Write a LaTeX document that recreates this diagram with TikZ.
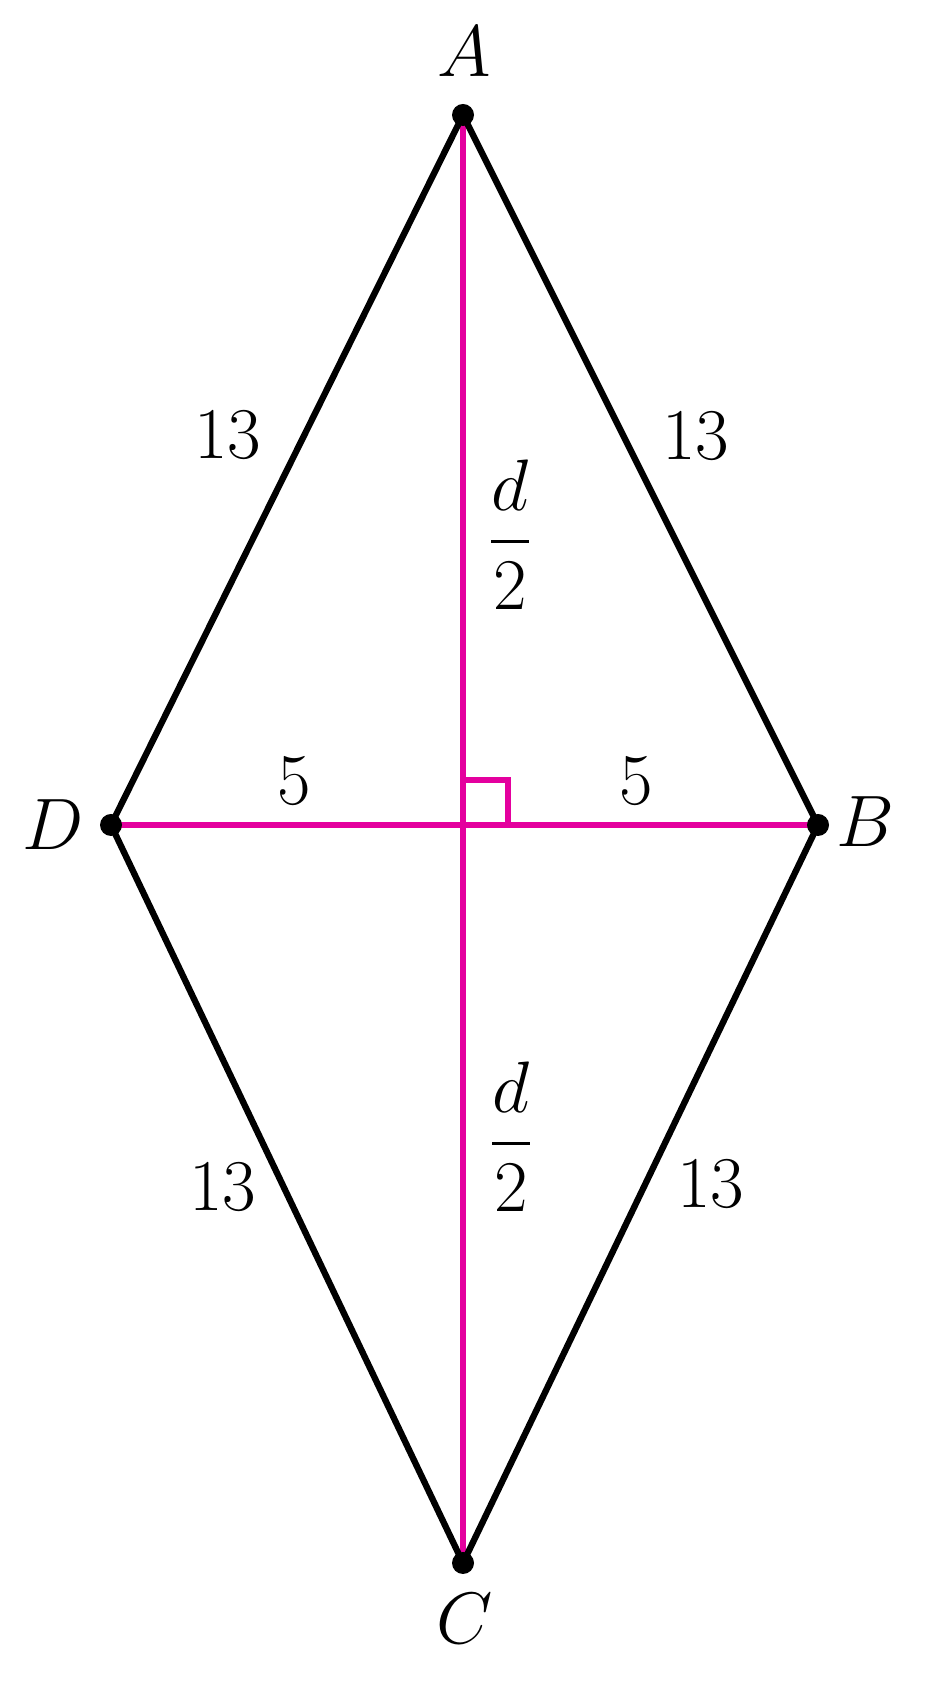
\documentclass[tikz,border=0pt]{standalone}
\usepackage{amsmath}
\usepackage{xcolor}
\usetikzlibrary{calc,positioning}

\definecolor{diagmag}{RGB}{228,0,158}

\begin{document}
\begin{tikzpicture}[every node/.style={font=\fontsize{20}{24}\selectfont, inner sep=0pt}]
  \useasboundingbox (0,0) rectangle (9.27,16.97);

  \coordinate (A) at (4.63,15.82);
  \coordinate (B) at (8.18,8.72);
  \coordinate (C) at (4.63,1.34);
  \coordinate (D) at (1.11,8.72);
  \coordinate (O) at (4.63,8.72);

  % Diagonals
  \draw[diagmag, line width=1.45pt] (A) -- (C);
  \draw[diagmag, line width=1.45pt] (D) -- (B);
  \draw[diagmag, line width=1.45pt] ($(O)+(0,0.45)$) -| ($(O)+(0.45,0)$);

  % Sides
  \draw[line width=1.8pt, line join=round] (A) -- (B) -- (C) -- (D) -- cycle;

  % Labels
  \node (lA) at (4.64,16.45) {$A$};
  \node (lB) at (8.65,8.75) {$B$};
  \node (lC) at (4.65,0.78) {$C$};
  \node (lD) at (0.53,8.72) {$D$};

  \node (sAD) at (2.28,12.62) {$13$};
  \node (sAB) at (6.96,12.61) {$13$};
  \node (sCD) at (2.23,5.10) {$13$};
  \node (sBC) at (7.11,5.13) {$13$};

  \node (hD) at (2.94,9.16) {$5$};
  \node (hB) at (6.36,9.16) {$5$};

  \node (vA) at (5.10,11.62) {$\dfrac{d}{2}$};
  \node (vC) at (5.11,5.60) {$\dfrac{d}{2}$};

  \foreach \p in {A,B,C,D}
    \fill (\p) circle (0.11);
\end{tikzpicture}
\end{document}
